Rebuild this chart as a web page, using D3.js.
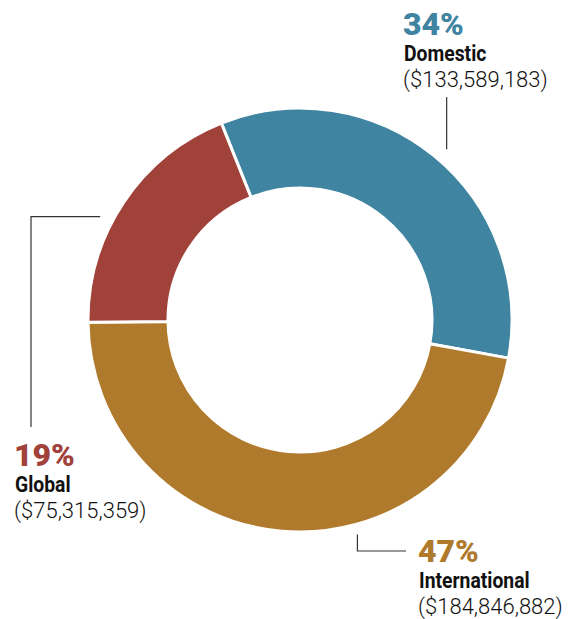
<!DOCTYPE html>
<html>
<head>
<meta charset="utf-8">
<script src="https://cdn.jsdelivr.net/npm/d3@7"></script>
<style>
  body { margin: 0; background: #fff; }
  .pct { font-family: Roboto, sans-serif; font-weight: 900; font-size: 32px; }
  .name { font-family: Roboto, "Liberation Sans", sans-serif; font-weight: 700; font-size: 21.5px; fill: #111; }
  .amt { font-family: Roboto, sans-serif; font-weight: 300; font-size: 22px; fill: #111; }
</style>
</head>
<body>
<div id="chart"></div>
<script>
// data
var categories = ['Domestic', 'International', 'Global']
var amounts = [133589183, 184846882, 75315359]
var percentLabels = ['34%', '47%', '19%']
var colors = ['#3f84a1', '#b07a2c', '#a0423a']

var width = 576
var height = 619
var cx = 300
var cy = 320
var outerR = 212
var innerR = 132

var svg = d3
  .select('#chart')
  .append('svg')
  .attr('width', width)
  .attr('height', height)

var g = svg.append('g').attr('transform', 'translate(' + cx + ',' + cy + ')')

var data = categories.map(function(c, i) {
  return { name: c, value: amounts[i], pct: percentLabels[i], color: colors[i] }
})

var start = -0.38
var pie = d3
  .pie()
  .sort(null)
  .value(d => d.value)
  .startAngle(start)
  .endAngle(start + Math.PI * 2)

var arc = d3.arc().innerRadius(innerR).outerRadius(outerR)

g.selectAll('path')
  .data(pie(data))
  .enter()
  .append('path')
  .attr('d', arc)
  .attr('fill', d => d.data.color)
  .attr('stroke', '#fff')
  .attr('stroke-width', 3)

// leader lines + labels (layout only)
var layout = {
  Domestic: { angle: 0.71, r: outerR + 13, path: 'v', to: 97, tx: 403, ty: 35 },
  International: { angle: 2.88, r: outerR + 10, path: 'vh', to: [551, 406], tx: 418, ty: 562 },
  Global: { angle: 5.19, r: outerR + 13, path: 'hv', to: [31, 427], tx: 14, ty: 466 }
}

function polar(a, r) {
  return [cx + r * Math.sin(a), cy - r * Math.cos(a)]
}

data.forEach(function(d) {
  var l = layout[d.name]
  var p = polar(l.angle, l.r)
  var pts
  if (l.path === 'v') pts = [p, [p[0], l.to]]
  else if (l.path === 'vh') pts = [p, [p[0], l.to[0]], [l.to[1], l.to[0]]]
  else pts = [p, [l.to[0], p[1]], [l.to[0], l.to[1]]]

  svg
    .append('path')
    .attr('d', d3.line()(pts))
    .attr('fill', 'none')
    .attr('stroke', '#333')
    .attr('stroke-width', 1.2)

  svg
    .append('text')
    .attr('class', 'pct')
    .attr('x', l.tx)
    .attr('y', l.ty)
    .attr('fill', d.color)
    .text(d.pct)

  // condensed bold name
  svg
    .append('text')
    .attr('class', 'name')
    .attr('transform', 'translate(' + (l.tx + 1) + ',' + (l.ty + 26) + ') scale(0.9,1)')
    .text(d.name)

  svg
    .append('text')
    .attr('class', 'amt')
    .attr('x', l.tx)
    .attr('y', l.ty + 52)
    .text('($' + d3.format(',')(d.value) + ')')
})
</script>
</body>
</html>
